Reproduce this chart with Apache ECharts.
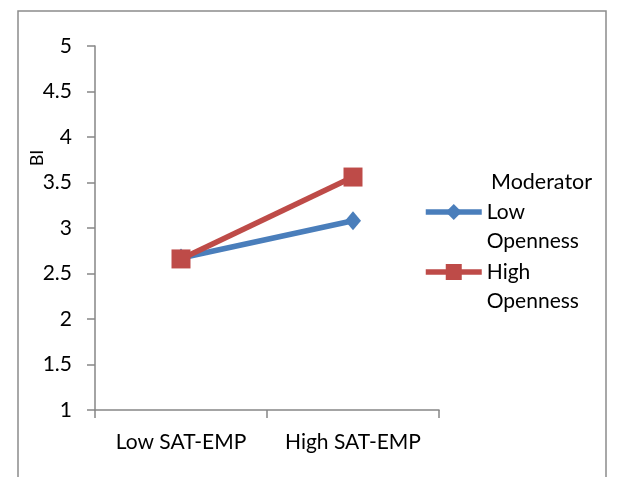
<!DOCTYPE html>
<html>
<head>
<meta charset="utf-8">
<script src="https://cdn.jsdelivr.net/npm/echarts@6/dist/echarts.min.js"></script>
<style>
  html, body { margin: 0; padding: 0; background: #fff; }
  #chart { width: 623px; height: 477px; }
</style>
</head>
<body>
<div id="chart"></div>
<script>
// Interaction plot: BI by SAT-EMP level, moderated by openness
const categories = ['Low SAT-EMP', 'High SAT-EMP'];
const lowOpenness = [2.67, 3.08];
const highOpenness = [2.66, 3.56];
const seriesNames = ['Low Openness', 'High Openness'];
// legend labels wrap onto two lines; the leading blank line keeps the
// marker level with the first line of text
const legendLines = { 'Low Openness': ' \nLow\nOpenness', 'High Openness': ' \nHigh\nOpenness' };

const FONT = 'Lato';
const BLUE = '#4A7EBB';
const RED = '#BE4B48';
const AXIS = '#868686';

const chart = echarts.init(document.getElementById('chart'));

function legendFor(name, iconY) {
  return {
    data: [name],
    orient: 'vertical',
    left: 423,
    top: iconY - 43.5,
    itemWidth: 56,
    itemHeight: 20,
    itemGap: 0,
    padding: 0,
    lineStyle: { width: 5.5 },
    formatter: n => legendLines[n],
    textStyle: { fontFamily: FONT, fontSize: 21, color: '#000', lineHeight: 29 }
  };
}

chart.setOption({
  animation: false,
  grid: { left: 95, right: 184, top: 46, bottom: 67, containLabel: false },
  xAxis: {
    type: 'category',
    data: categories,
    boundaryGap: true,
    axisLine: { lineStyle: { color: AXIS, width: 1.5 } },
    axisTick: { show: true, interval: 0, length: 8, lineStyle: { color: AXIS, width: 1.5 } },
    axisLabel: { interval: 0, hideOverlap: false, fontFamily: FONT, fontSize: 21, color: '#000', margin: 22 }
  },
  yAxis: {
    type: 'value',
    min: 1, max: 5, interval: 0.5,
    splitLine: { show: false },
    axisLine: { show: true, lineStyle: { color: AXIS, width: 1.5 } },
    axisTick: { show: true, length: 8, lineStyle: { color: AXIS, width: 1.5 } },
    axisLabel: { fontFamily: FONT, fontSize: 21, color: '#000', margin: 23 }
  },
  legend: [legendFor(seriesNames[0], 212), legendFor(seriesNames[1], 272)],
  series: [
    {
      name: seriesNames[0], type: 'line', data: lowOpenness,
      symbol: 'diamond', symbolSize: [16, 19],
      lineStyle: { color: BLUE, width: 5.5 },
      itemStyle: { color: BLUE }
    },
    {
      name: seriesNames[1], type: 'line', data: highOpenness,
      symbol: 'rect', symbolSize: 19,
      lineStyle: { color: RED, width: 5.5 },
      itemStyle: { color: RED }
    }
  ],
  graphic: [
    {
      type: 'rect', silent: true, z: -1,
      shape: { x: 18, y: 11, width: 588, height: 520 },
      style: { fill: null, stroke: '#8c8c8c', lineWidth: 1.5 }
    },
    {
      type: 'text', x: 491, y: 182,
      style: { text: 'Moderator', fontFamily: FONT, fontSize: 21.5, fill: '#000', verticalAlign: 'middle' }
    },
    {
      type: 'text', x: 37, y: 158, rotation: Math.PI / 2,
      style: { text: 'BI', fontFamily: FONT, fontSize: 18, fill: '#000', align: 'center', verticalAlign: 'middle' }
    }
  ]
});
</script>
</body>
</html>
